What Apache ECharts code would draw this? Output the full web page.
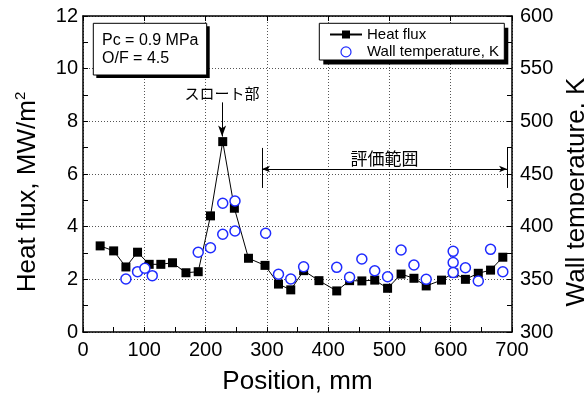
<!DOCTYPE html>
<html>
<head>
<meta charset="utf-8">
<script src="https://cdn.jsdelivr.net/npm/echarts@6/dist/echarts.min.js"></script>
<style>
html,body{margin:0;padding:0;background:#fff;}
#c{width:584px;height:400px;}
</style>
</head>
<body>
<div id="c"></div>
<script>
// ---- data ----
const heatFluxPositions = [28, 50, 70, 89, 108, 127, 146, 168, 188, 208, 228, 247, 270, 297, 319, 339, 360, 385, 414, 435, 455, 476, 497, 519, 540, 560, 585, 605, 624, 645, 665, 685];
const heatFlux = [3.27, 3.08, 2.47, 3.03, 2.57, 2.57, 2.63, 2.25, 2.29, 4.41, 7.23, 4.70, 2.80, 2.53, 1.82, 1.60, 2.33, 1.95, 1.56, 1.95, 1.94, 1.97, 1.66, 2.20, 2.04, 1.75, 1.97, 2.24, 2.00, 2.23, 2.35, 2.84];
const wallTempPositions = [70, 89, 101, 113, 188, 208, 228, 228, 248, 248, 298, 319, 339, 360, 414, 435, 455, 476, 497, 519, 540, 560, 604, 604, 604, 624, 645, 665, 685];
const wallTemp = [350.3, 357.3, 360.5, 353.5, 375.7, 380.0, 422.2, 392.8, 424.4, 395.9, 393.7, 354.8, 350.3, 362.0, 361.4, 351.9, 369.3, 358.2, 352.5, 377.9, 363.6, 350.0, 376.6, 365.9, 356.4, 361.0, 348.4, 378.5, 357.2];
const xRange = [0, 700, 100];
const yLeftRange = [0, 12, 2];
const yRightRange = [300, 600, 50];
const seriesNames = ['Heat flux', 'Wall temperature, K'];
const conditionText = ['Pc = 0.9 MPa', 'O/F = 4.5'];
const throatLabel = 'スロート部';
const rangeLabel = '評価範囲';

const FONT = 'Liberation Sans, Arial, sans-serif';
const JP = 'Noto Sans CJK JP, sans-serif';
const black = '#000';
const gridDot = {show: true, lineStyle: {color: '#555', width: 1, type: [1, 2]}};

function axisCommon(extra) {
  return Object.assign({
    type: 'value',
    axisLine: {show: true, onZero: false, lineStyle: {color: black, width: 1.5}},
    axisTick: {show: true, inside: true, length: 5, lineStyle: {color: black, width: 1}},
    minorTick: {show: true, splitNumber: 2, length: 5, lineStyle: {color: black, width: 1}},
    axisLabel: {fontSize: 20, color: black, fontFamily: FONT},
    nameTextStyle: {fontSize: 26, color: black, fontFamily: FONT}
  }, extra);
}

const chart = echarts.init(document.getElementById('c'), null, {renderer: 'canvas'});
chart.setOption({
  animation: false,
  textStyle: {fontFamily: FONT},
  grid: {left: 83, right: 72, top: 16, bottom: 68, containLabel: false, outerBoundsMode: 'none'},
  xAxis: [
    axisCommon({
      min: xRange[0], max: xRange[1], interval: xRange[2], position: 'bottom',
      axisLabel: {fontSize: 20, color: black, fontFamily: FONT, margin: 8},
      splitLine: gridDot,
      name: 'Position, mm', nameLocation: 'middle', nameGap: 37
    }),
    axisCommon({
      min: xRange[0], max: xRange[1], interval: xRange[2], position: 'top',
      axisLabel: {show: false}, minorTick: {show: false}, splitLine: {show: false}
    })
  ],
  yAxis: [
    axisCommon({
      min: yLeftRange[0], max: yLeftRange[1], interval: yLeftRange[2], position: 'left',
      axisLabel: {fontSize: 20, color: black, fontFamily: FONT, margin: 5},
      splitLine: gridDot,
      name: '{a|Heat flux, MW/m}{b|2}', nameLocation: 'middle', nameRotate: 90, nameGap: 41,
      nameTextStyle: {color: black, fontFamily: FONT, padding: [0, 36, 0, 0], rich: {
        a: {fontSize: 26, color: black, fontFamily: FONT},
        b: {fontSize: 15, color: black, fontFamily: FONT, padding: [0, 0, 14, 0]}
      }}
    }),
    axisCommon({
      min: yRightRange[0], max: yRightRange[1], interval: yRightRange[2], position: 'right',
      axisLabel: {fontSize: 20, color: black, fontFamily: FONT, margin: 8},
      splitLine: {show: false},
      name: 'Wall temperature, K', nameLocation: 'middle', nameRotate: 90, nameGap: 49,
      nameTextStyle: {fontSize: 26, color: black, fontFamily: FONT, padding: [0, 36, 0, 0]}
    })
  ],
  legend: {
    orient: 'vertical', left: 329, top: 27, padding: 0,
    itemWidth: 32, itemHeight: 10, itemGap: 2.4, selectedMode: false, z: 10,
    textStyle: {fontSize: 15, color: black, fontFamily: FONT, lineHeight: 15},
    data: [
      {name: seriesNames[0]},
      {name: seriesNames[1], itemStyle: {borderWidth: 1.2}}
    ]
  },
  graphic: [
    {type: 'rect', z: 5, shape: {x: 96.3, y: 26.3, width: 113.4, height: 51.7}, style: {fill: black}},
    {type: 'rect', z: 6, shape: {x: 93.3, y: 23.3, width: 113.4, height: 51.7}, style: {fill: '#fff', stroke: black, lineWidth: 1}},
    {type: 'text', z: 7, x: 102, y: 31.9, style: {text: conditionText.join('\n'), fill: black, font: '16px ' + FONT, lineHeight: 17.6, verticalAlign: 'top'}},
    {type: 'rect', z: 5, shape: {x: 323.3, y: 27.8, width: 185, height: 36.7}, style: {fill: black}},
    {type: 'rect', z: 6, shape: {x: 319.3, y: 23.3, width: 185, height: 36.7}, style: {fill: '#fff', stroke: black, lineWidth: 1}}
  ],
  series: [
    {
      type: 'line', name: seriesNames[0], xAxisIndex: 0, yAxisIndex: 0, z: 3,
      data: heatFluxPositions.map((p, i) => [p, heatFlux[i]]),
      symbol: 'rect', symbolSize: 9,
      itemStyle: {color: black}, lineStyle: {color: black, width: 1},
      markLine: {
        silent: true, animation: false, symbol: ['none', 'none'],
        lineStyle: {color: black, width: 1, type: 'solid'},
        label: {show: false},
        emphasis: {disabled: true},
        data: [
          [{coord: [227, 8.72], symbol: 'none',
            label: {show: true, position: 'start', formatter: throatLabel, distance: 2, fontSize: 15, color: black, fontFamily: JP}},
           {coord: [227, 7.42], symbol: 'arrow', symbolSize: [6, 11]}],
          [{coord: [292, 6.19], symbol: 'arrow', symbolSize: [5, 8],
            label: {show: true, position: 'middle', formatter: rangeLabel, distance: 2, fontSize: 17, color: black, fontFamily: JP}},
           {coord: [692, 6.19], symbol: 'arrow', symbolSize: [5, 8]}],
          [{coord: [292, 6.99]}, {coord: [292, 5.47]}],
          [{coord: [693, 6.99]}, {coord: [693, 5.47]}]
        ]
      }
    },
    {
      type: 'scatter', name: seriesNames[1], xAxisIndex: 0, yAxisIndex: 1, z: 4,
      data: wallTempPositions.map((p, i) => [p, wallTemp[i]]),
      symbol: 'circle', symbolSize: 10,
      itemStyle: {color: '#fff', borderColor: '#1f2bff', borderWidth: 1.5, opacity: 1}
    }
  ]
});
</script>
</body>
</html>
